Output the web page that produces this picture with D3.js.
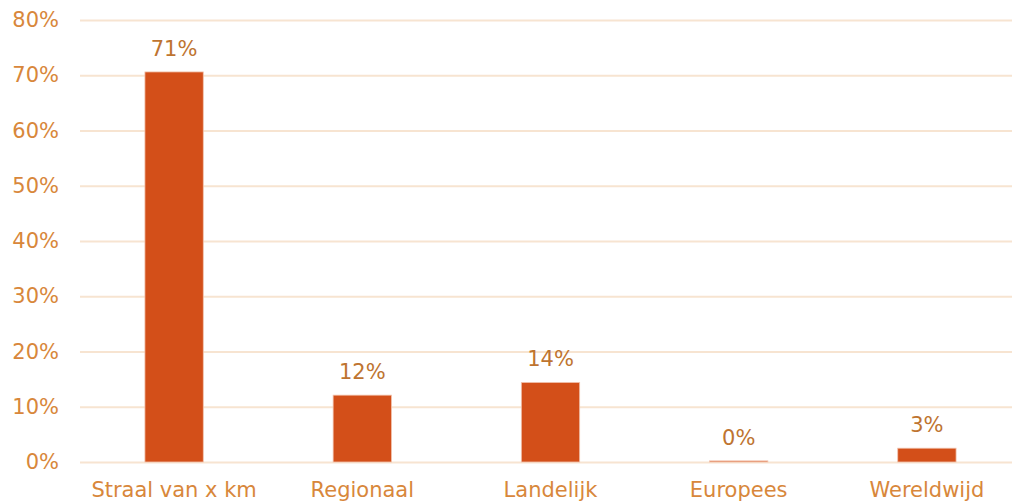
<!DOCTYPE html>
<html>
<head>
<meta charset="utf-8">
<script src="https://cdn.jsdelivr.net/npm/d3@7"></script>
<style>
  body { margin: 0; background: #fff; }
  text { font-family: 'DejaVu Sans', Verdana, sans-serif; }
</style>
</head>
<body>
<div id="bar-chart"></div>
<script>
const categories = ['Straal van x km', 'Regionaal', 'Landelijk', 'Europees', 'Wereldwijd']
const values = [70.6, 12.1, 14.4, 0.2, 2.5]
const valueLabels = ['71%', '12%', '14%', '0%', '3%']
const yTicks = [0, 10, 20, 30, 40, 50, 60, 70, 80]

const width = 1012
const height = 501

const svg = d3
  .select('#bar-chart')
  .append('svg')
  .attr('width', width)
  .attr('height', height)

const xPositionScale = d3
  .scaleBand()
  .domain(categories)
  .range([80, 1021])
  .paddingInner(0.69)
  .paddingOuter(0.345)

const yPositionScale = d3
  .scaleLinear()
  .domain([0, 80])
  .range([462, 20])

// gridlines + tick labels

const yAxis = d3
  .axisLeft(yPositionScale)
  .tickValues(yTicks)
  .tickFormat(d => d + '%')
  .tickSize(-(width - 80))
  .tickPadding(21)

const yG = svg
  .append('g')
  .attr('class', 'axis y-axis')
  .attr('transform', 'translate(80,0)')
  .call(yAxis)

yG.select('.domain').remove()
yG.selectAll('line').attr('stroke', '#F7E4D1').attr('stroke-width', 2)
yG.selectAll('text')
  .attr('fill', '#D8873B')
  .attr('font-size', 21)
  .style('font-family', "'DejaVu Sans', Verdana, sans-serif")

// bars

const datapoints = categories.map((c, i) => ({ category: c, value: values[i], label: valueLabels[i] }))

svg
  .selectAll('.bar')
  .data(datapoints)
  .enter()
  .append('rect')
  .attr('class', 'bar')
  .attr('x', d => xPositionScale(d.category))
  .attr('y', d => yPositionScale(d.value))
  .attr('width', xPositionScale.bandwidth())
  .attr('height', d => yPositionScale(0) - yPositionScale(d.value))
  .attr('fill', '#D34F19')
  .attr('stroke', '#F2C3AE')
  .attr('stroke-width', 0.8)

// value labels

svg
  .selectAll('.value-label')
  .data(datapoints)
  .enter()
  .append('text')
  .attr('class', 'value-label')
  .attr('x', d => xPositionScale(d.category) + xPositionScale.bandwidth() / 2)
  .attr('y', d => yPositionScale(d.value) - 16)
  .attr('text-anchor', 'middle')
  .attr('font-size', 21)
  .attr('fill', '#BE7430')
  .text(d => d.label)

// category labels

const xAxis = d3.axisBottom(xPositionScale).tickSize(0).tickPadding(20)

const xG = svg
  .append('g')
  .attr('class', 'axis x-axis')
  .attr('transform', 'translate(0,462)')
  .call(xAxis)

xG.select('.domain').remove()
xG.selectAll('text')
  .attr('fill', '#D8873B')
  .attr('font-size', 21)
  .style('font-family', "'DejaVu Sans', Verdana, sans-serif")
</script>
</body>
</html>
